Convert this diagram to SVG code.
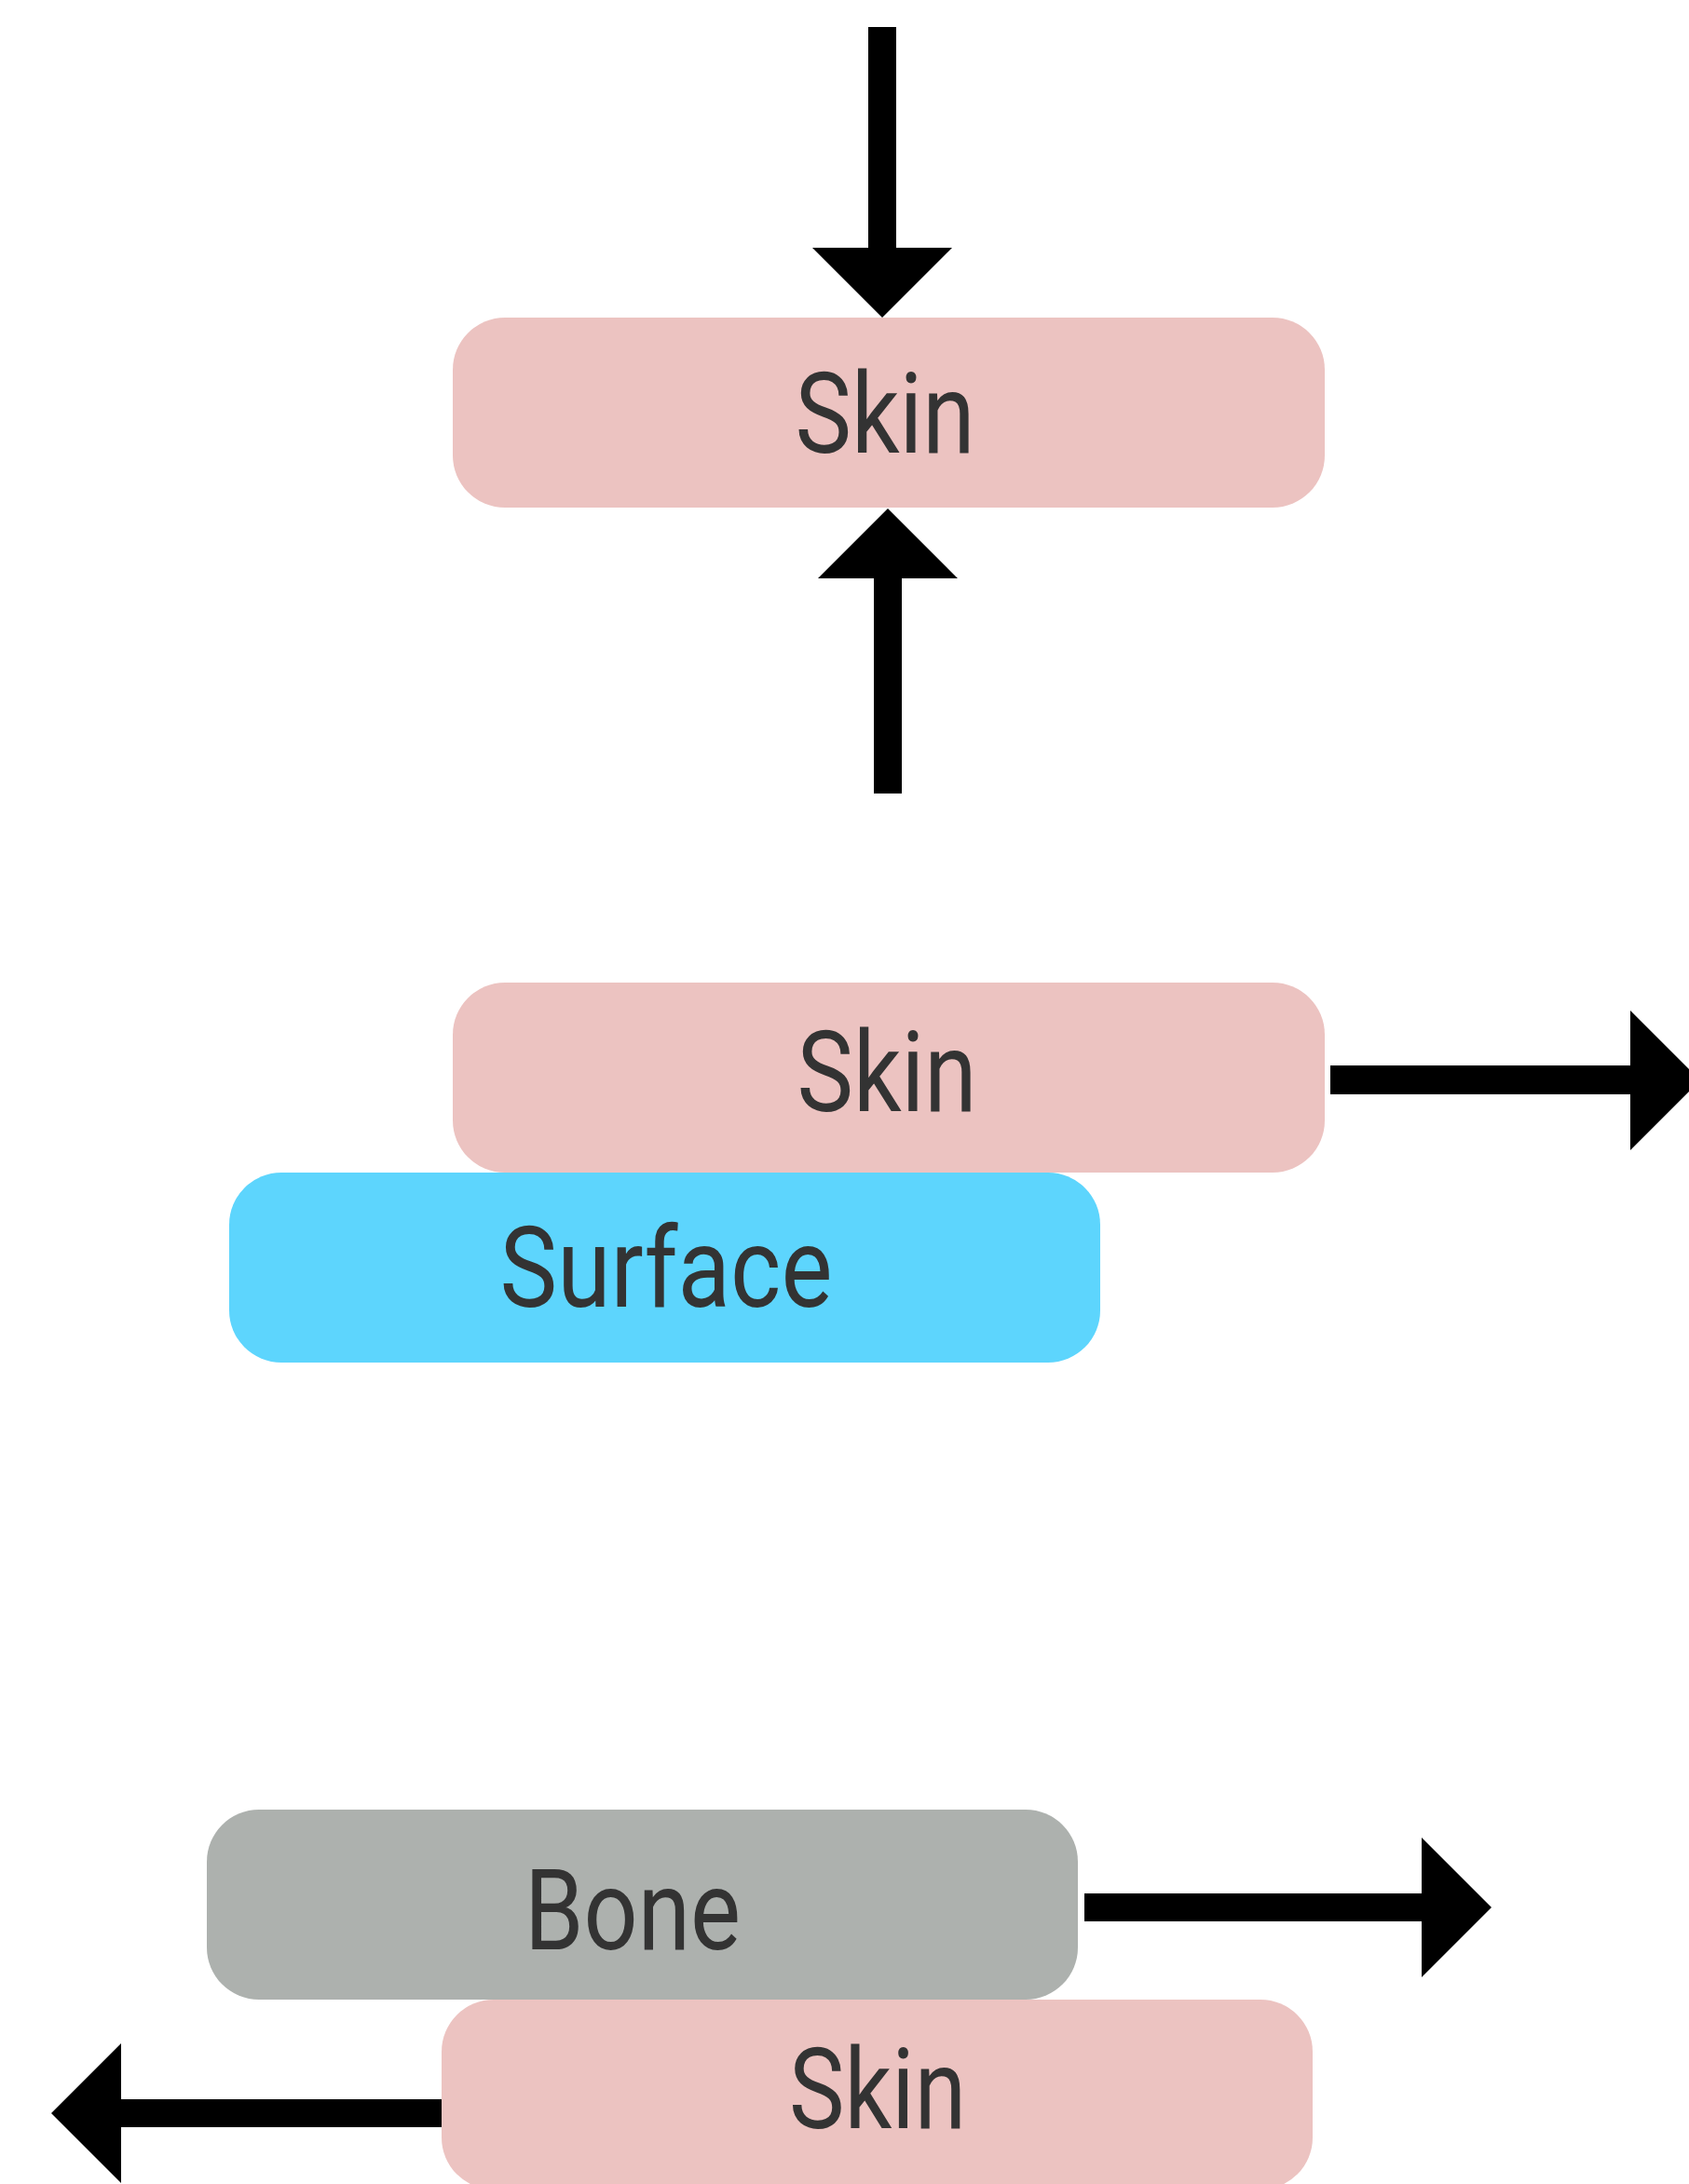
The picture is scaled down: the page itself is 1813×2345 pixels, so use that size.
<svg xmlns="http://www.w3.org/2000/svg" width="1813" height="2345" viewBox="0 0 1813 2345">
<style>
.node rect{rx:56px;ry:56px}
.skin{fill:#ecc3c1}
.surface{fill:#5dd5fd}
.bone{fill:#adb1ae}
.lbl{font-family:Roboto,"Liberation Sans",sans-serif;font-size:120px;fill:#333333;text-anchor:middle}
.arrow{fill:#000000}
</style>
<rect width="1813" height="2345" fill="#ffffff"/>
<g id="skin1" class="node">
<rect class="skin" x="486" y="341" width="936" height="204"/>
<text class="lbl" x="950" y="486" textLength="193" lengthAdjust="spacingAndGlyphs">Skin</text>
</g>
<g id="skin2" class="node">
<rect class="skin" x="486" y="1055" width="936" height="204"/>
<text class="lbl" x="952" y="1193" textLength="193" lengthAdjust="spacingAndGlyphs">Skin</text>
</g>
<g id="surface" class="node">
<rect class="surface" x="246" y="1259" width="935" height="204"/>
<text class="lbl" x="715" y="1403" textLength="357" lengthAdjust="spacingAndGlyphs">Surface</text>
</g>
<g id="bone" class="node">
<rect class="bone" x="222" y="1943" width="935" height="204"/>
<text class="lbl" x="679" y="2093" textLength="232" lengthAdjust="spacingAndGlyphs">Bone</text>
</g>
<g id="skin3" class="node">
<rect class="skin" x="474" y="2147" width="935" height="204"/>
<text class="lbl" x="942" y="2285" textLength="190" lengthAdjust="spacingAndGlyphs">Skin</text>
</g>
<g id="connectors" class="arrow">
<path d="M932,29 H962 V266 H1022 L947,341 L872,266 H932 Z"/>
<path d="M938,852 H968 V621 H1028 L953,546 L878,621 H938 Z"/>
<path d="M1428,1144 V1175 H1750 V1235 L1825,1160 L1750,1085 V1144 Z"/>
<path d="M1164,2033 V2063 H1526 V2123 L1601,2048 L1526,1973 V2033 Z"/>
<path d="M474,2254 V2284 H130 V2344 L55,2269 L130,2194 V2254 Z"/>
</g>
</svg>
